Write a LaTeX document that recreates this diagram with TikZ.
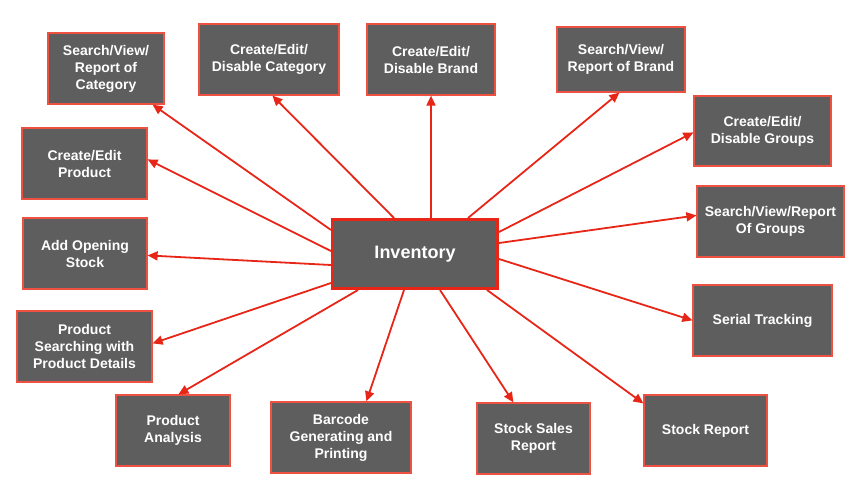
\documentclass[tikz,border=0pt]{standalone}
\usepackage{fontspec}
\setmainfont{Liberation Sans}
\usetikzlibrary{arrows.meta,calc}
\definecolor{boxfill}{RGB}{94,94,94}
\definecolor{boxedge}{RGB}{238,80,66}
\definecolor{arrowred}{RGB}{232,38,24}
\tikzset{
  box/.style={draw=boxedge, line width=1.2pt, fill=boxfill, text=white, align=center,
    inner sep=2pt, font=\fontsize{14}{17}\selectfont\bfseries},
  hub/.style={draw=arrowred, line width=3pt, fill=boxfill, text=white, align=center,
    font=\fontsize{18}{21}\selectfont\bfseries},
  conn/.style={draw=arrowred, line width=1.8pt, -{Triangle[length=10pt,width=9pt]}}
}
\begin{document}
\begin{tikzpicture}[x=1pt,y=-1pt]
\path[use as bounding box, fill=white] (0,0) rectangle (859,493);

\node[hub, minimum width=165pt, minimum height=69pt] (inv) at (415,254) {Inventory};

\node[box, minimum width=116pt, minimum height=71pt] (cat) at (106,68.5) {Search/View/\\Report of\\Category};
\node[box, minimum width=125pt, minimum height=71pt] (prod) at (84.5,163.5) {Create/Edit\\Product};
\node[box, minimum width=140pt, minimum height=71pt] (ccat) at (269,59.5) {Create/Edit/\\Disable Category};
\node[box, minimum width=128pt, minimum height=71pt] (cbrand) at (431,59.5) {Create/Edit/\\Disable Brand};
\node[box, minimum width=128pt, minimum height=65pt] (sbrand) at (621,59.5) {Search/View/\\Report of Brand};
\node[box, minimum width=137pt, minimum height=70pt] (cgroups) at (762.5,131) {Create/Edit/\\Disable Groups};
\node[box, minimum width=124pt, minimum height=71pt] (opening) at (85,253.5) {Add Opening\\Stock};
\node[box, minimum width=135pt, minimum height=71pt] (psearch) at (84.5,346.5) {Product\\Searching with\\Product Details};
\node[box, minimum width=147pt, minimum height=71pt] (sgroups) at (770.5,221.5) {Search/View/Report\\Of Groups};
\node[box, minimum width=139pt, minimum height=71pt] (serial) at (762.5,320.5) {Serial Tracking};
\node[box, minimum width=114pt, minimum height=71pt] (analysis) at (173,430.5) {Product\\Analysis};
\node[box, minimum width=140pt, minimum height=71pt] (barcode) at (341,437.5) {Barcode\\Generating and\\Printing};
\node[box, minimum width=113pt, minimum height=71pt] (sales) at (533.5,438.5) {Stock Sales\\Report};
\node[box, minimum width=123pt, minimum height=71pt] (stockrep) at (705.5,430.5) {Stock Report};

\draw[conn] ($(inv.north west)+(0,12)$) -- ($(cat.south east)+(-12,0)$);
\draw[conn] ($(inv.north west)+(0,33)$) -- ($(prod.north east)+(0,32)$);
\draw[conn] ($(inv.north west)+(63,0)$) -- ($(ccat.south west)+(74,0)$);
\draw[conn] ($(inv.north west)+(100,0)$) -- (cbrand.south);
\draw[conn] ($(inv.north west)+(137,0)$) -- ($(sbrand.south west)+(63,0)$);
\draw[conn] ($(inv.north east)+(0,14)$) -- ($(cgroups.north west)+(0,37)$);
\draw[conn] ($(inv.north east)+(0,25)$) -- ($(sgroups.north west)+(0,30)$);
\draw[conn] ($(inv.north east)+(0,41)$) -- ($(serial.north west)+(0,36)$);
\draw[conn] ($(inv.south east)+(-12,0)$) -- ($(stockrep.north west)+(0,9)$);
\draw[conn] ($(inv.south west)+(109,0)$) -- ($(sales.north west)+(37,0)$);
\draw[conn] ($(inv.south west)+(73,0)$) -- ($(barcode.north west)+(96,0)$);
\draw[conn] ($(inv.south west)+(27,0)$) -- ($(analysis.north west)+(63,0)$);
\draw[conn] ($(inv.south west)+(0,-7)$) -- ($(psearch.north east)+(0,33)$);
\draw[conn] ($(inv.south west)+(0,-25)$) -- ($(opening.north east)+(0,38)$);
\end{tikzpicture}
\end{document}
